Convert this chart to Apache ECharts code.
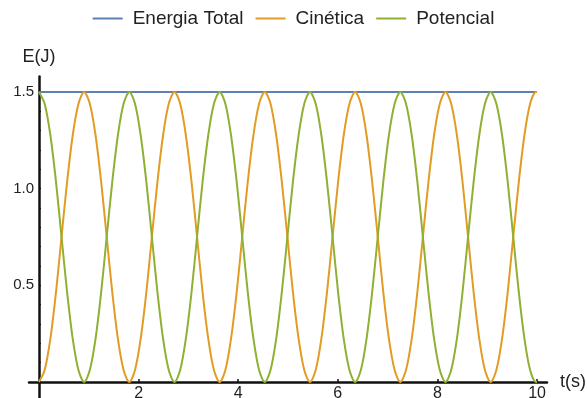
<!DOCTYPE html>
<html>
<head>
<meta charset="utf-8">
<script src="https://cdn.jsdelivr.net/npm/echarts@6/dist/echarts.min.js"></script>
<style>
  html, body { margin: 0; padding: 0; background: #fff; }
  #chart { width: 587px; height: 398px; }
</style>
</head>
<body>
<div id="chart"></div>
<script>
// Time samples (s)
const times = [
  0, 0.113, 0.227, 0.340, 0.453, 0.567, 0.680, 0.794, 0.907, 1.020, 1.134, 1.247, 1.360, 1.474, 1.587, 1.700,
  1.814, 1.927, 2.040, 2.154, 2.267, 2.381, 2.494, 2.607, 2.721, 2.834, 2.947, 3.061, 3.174, 3.287, 3.401, 3.514,
  3.628, 3.741, 3.854, 3.968, 4.081, 4.194, 4.308, 4.421, 4.534, 4.648, 4.761, 4.874, 4.988, 5.101, 5.215, 5.328,
  5.441, 5.555, 5.668, 5.781, 5.895, 6.008, 6.121, 6.235, 6.348, 6.462, 6.575, 6.688, 6.802, 6.915, 7.028, 7.142,
  7.255, 7.368, 7.482, 7.595, 7.708, 7.822, 7.935, 8.049, 8.162, 8.275, 8.389, 8.502, 8.615, 8.729, 8.842, 8.955,
  9.069, 9.182, 9.296, 9.409, 9.522, 9.636, 9.749, 9.862, 9.976, 10
];

// Kinetic energy (J)
const cinetica = [
  0, 0.06, 0.22, 0.46, 0.75, 1.04, 1.28, 1.44, 1.5, 1.44, 1.28, 1.04, 0.75, 0.46, 0.22, 0.06,
  0, 0.06, 0.22, 0.46, 0.75, 1.04, 1.28, 1.44, 1.5, 1.44, 1.28, 1.04, 0.75, 0.46, 0.22, 0.06,
  0, 0.06, 0.22, 0.46, 0.75, 1.04, 1.28, 1.44, 1.5, 1.44, 1.28, 1.04, 0.75, 0.46, 0.22, 0.06,
  0, 0.06, 0.22, 0.46, 0.75, 1.04, 1.28, 1.44, 1.5, 1.44, 1.28, 1.04, 0.75, 0.46, 0.22, 0.06,
  0, 0.06, 0.22, 0.46, 0.75, 1.04, 1.28, 1.44, 1.5, 1.44, 1.28, 1.04, 0.75, 0.46, 0.22, 0.06,
  0, 0.06, 0.22, 0.46, 0.75, 1.04, 1.28, 1.44, 1.5, 1.5
];

// Potential energy (J)
const potencial = [
  1.5, 1.44, 1.28, 1.04, 0.75, 0.46, 0.22, 0.06, 0, 0.06, 0.22, 0.46, 0.75, 1.04, 1.28, 1.44,
  1.5, 1.44, 1.28, 1.04, 0.75, 0.46, 0.22, 0.06, 0, 0.06, 0.22, 0.46, 0.75, 1.04, 1.28, 1.44,
  1.5, 1.44, 1.28, 1.04, 0.75, 0.46, 0.22, 0.06, 0, 0.06, 0.22, 0.46, 0.75, 1.04, 1.28, 1.44,
  1.5, 1.44, 1.28, 1.04, 0.75, 0.46, 0.22, 0.06, 0, 0.06, 0.22, 0.46, 0.75, 1.04, 1.28, 1.44,
  1.5, 1.44, 1.28, 1.04, 0.75, 0.46, 0.22, 0.06, 0, 0.06, 0.22, 0.46, 0.75, 1.04, 1.28, 1.44,
  1.5, 1.44, 1.28, 1.04, 0.75, 0.46, 0.22, 0.06, 0, 0
];

// Total energy (J), constant
const totalTimes = [0, 10];
const total = [1.5, 1.5];

const xTickLabels = [2, 4, 6, 8, 10];
const yTickLabels = [0.5, 1.0, 1.5];
const yMinorTicks = [0.1, 0.2, 0.3, 0.4, 0.5, 0.6, 0.7, 0.8, 0.9, 1.0, 1.1, 1.2, 1.3, 1.4, 1.5];

const seriesNames = ['Energia Total', 'Cinética', 'Potencial'];
const colors = ['#5E81B5', '#E19C24', '#8FB032'];

const pairs = (xs, ys) => xs.map((x, i) => [x, ys[i]]);

const chart = echarts.init(document.getElementById('chart'), null, { renderer: 'canvas' });

const font = 'Liberation Sans, Arial, sans-serif';

chart.setOption({
  animation: false,
  backgroundColor: '#ffffff',
  color: colors,
  legend: {
    top: 4,
    left: 'center',
    icon: 'rect',
    itemWidth: 30,
    itemHeight: 2,
    itemGap: 12,
    textStyle: { fontFamily: font, fontSize: 19, color: '#222', padding: [0, 0, 0, 5] },
    data: seriesNames
  },
  grid: { left: 29, right: 40, top: 76.5, bottom: 0, containLabel: false, outerBoundsMode: 'none' },
  xAxis: {
    type: 'value',
    min: -0.2,
    max: 10.2,
    name: 't(s)',
    nameLocation: 'end',
    nameGap: 13,
    nameTextStyle: { fontFamily: font, fontSize: 18, color: '#222' },
    axisLine: { onZero: true, lineStyle: { color: '#111', width: 2.5 } },
    axisTick: { show: true, inside: true, length: 3, customValues: xTickLabels, lineStyle: { color: '#111', width: 1.5 } },
    // labels sit just under the t = 0 line, which is above the grid's bottom edge
    axisLabel: { customValues: xTickLabels, margin: -12, fontFamily: font, fontSize: 16, color: '#222' },
    splitLine: { show: false }
  },
  yAxis: {
    type: 'value',
    min: -0.083,
    max: 1.58,
    name: 'E(J)',
    nameLocation: 'end',
    nameGap: 10,
    nameTextStyle: { fontFamily: font, fontSize: 18, color: '#222', align: 'center' },
    axisLine: { onZero: true, lineStyle: { color: '#111', width: 2.5 } },
    axisTick: { show: true, inside: true, length: 2, customValues: yMinorTicks, lineStyle: { color: '#111', width: 1.2 } },
    axisLabel: {
      customValues: yTickLabels,
      margin: -5,
      fontFamily: font,
      fontSize: 15,
      color: '#222',
      formatter: v => v.toFixed(1)
    },
    splitLine: { show: false }
  },
  series: [
    {
      name: seriesNames[0], type: 'line', data: pairs(totalTimes, total),
      symbol: 'none', lineStyle: { width: 2, color: colors[0] }
    },
    {
      name: seriesNames[1], type: 'line', data: pairs(times, cinetica),
      symbol: 'none', smooth: 0.3, lineStyle: { width: 2, color: colors[1] }
    },
    {
      name: seriesNames[2], type: 'line', data: pairs(times, potencial),
      symbol: 'none', smooth: 0.3, lineStyle: { width: 2, color: colors[2] }
    }
  ]
});
</script>
</body>
</html>
